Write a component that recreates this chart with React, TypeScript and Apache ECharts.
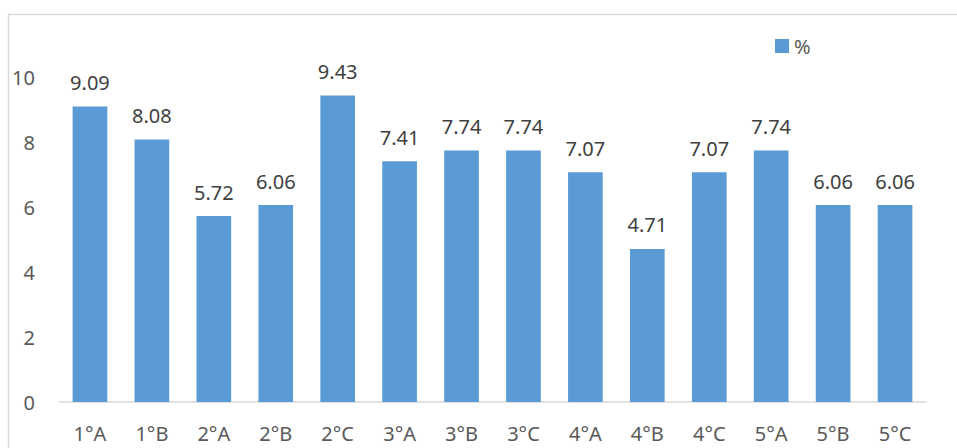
import React, { useEffect, useRef } from "react";
import * as echarts from "echarts";

const categories = ["1°A", "1°B", "2°A", "2°B", "2°C", "3°A", "3°B", "3°C", "4°A", "4°B", "4°C", "5°A", "5°B", "5°C"];
const percentValues = [9.09, 8.08, 5.72, 6.06, 9.43, 7.41, 7.74, 7.74, 7.07, 4.71, 7.07, 7.74, 6.06, 6.06];
const seriesName = "%";

export default function App() {
  const ref = useRef<HTMLDivElement>(null);
  useEffect(() => {
    if (!ref.current) return;
    const chart = echarts.init(ref.current, undefined, { renderer: "svg" });
    const font = "'Noto Sans', 'Open Sans', sans-serif";
    chart.setOption({
      animation: false,
      backgroundColor: "#ffffff",
      graphic: [
        {
          type: "rect",
          shape: { x: 8.5, y: 14.5, width: 1000, height: 500 },
          style: { fill: "none", stroke: "#d9d9d9", lineWidth: 1.5 },
          silent: true,
        },
      ],
      legend: {
        left: 770,
        top: 31,
        itemWidth: 14,
        itemHeight: 14,
        icon: "rect",
        data: [seriesName],
        textStyle: { color: "#595959", fontSize: 20, fontFamily: font },
      },
      grid: { left: 59, right: 31, top: 77, bottom: 46 },
      xAxis: {
        type: "category",
        data: categories,
        axisLine: { lineStyle: { color: "#d9d9d9", width: 1.5 } },
        axisTick: { show: false },
        axisLabel: { color: "#595959", fontSize: 20, fontFamily: font, margin: 21 },
      },
      yAxis: {
        type: "value",
        min: 0,
        max: 10,
        interval: 2,
        axisLine: { show: false },
        axisTick: { show: false },
        splitLine: { show: false },
        axisLabel: { color: "#595959", fontSize: 20, fontFamily: font, margin: 24 },
      },
      series: [
        {
          name: seriesName,
          type: "bar",
          data: percentValues,
          barWidth: "56%",
          itemStyle: { color: "#5b9bd5" },
          label: {
            show: true,
            position: "top",
            distance: 14,
            color: "#404040",
            fontSize: 20,
            fontFamily: font,
            formatter: (p: any) => Number(p.value).toFixed(2),
          },
        },
      ],
    });
    return () => chart.dispose();
  }, []);
  return (
    <div
      ref={ref}
      style={{ position: "absolute", left: 0, top: 0, width: 957, height: 448 }}
    />
  );
}
